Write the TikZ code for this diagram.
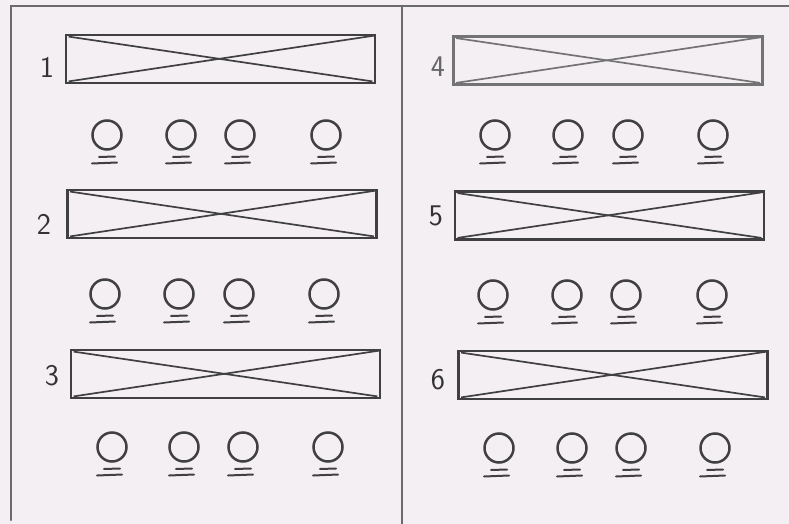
\documentclass[tikz,border=0pt]{standalone}
\begin{document}
\begin{tikzpicture}[x=1pt,y=-1pt,
  ink/.style={draw=black!75},
  frameline/.style={draw=black!58,line width=2.2pt,line cap=round},
  slot/.style={ink,line width=2.8pt,rectangle,minimum width=309pt,minimum height=48pt,inner sep=0pt},
  crossline/.style={ink,line width=1.7pt},
  dot/.style={ink,line width=2.5pt,circle,minimum size=29pt,inner sep=0pt},
  dash line/.style={ink,line width=2pt,line cap=round},
  num/.style={text=black!80,font=\fontsize{30}{30}\sffamily,inner sep=0pt}]
\definecolor{bgc}{HTML}{F4EFF3}
\fill[bgc] (0,0) rectangle (789,524);
\useasboundingbox (0,0) rectangle (789,524);
% frame
\coordinate (ftl) at (11,6);
\coordinate (ftr) at (789,6);
\coordinate (fbl) at (11,520);
\coordinate (dtop) at (402,6);
\coordinate (dbot) at (402,524);
\draw[frameline] (ftr) -- (ftl) -- (fbl);
\draw[frameline] (dtop) -- (dbot);
% slots
\node[slot] (r1) at (220.5,59) {};
\node[slot] (r2) at (222,214) {};
\node[slot] (r3) at (225.5,374) {};
\node[slot,draw=black!55] (r4) at (608,60.5) {};
\node[slot] (r5) at (609.5,215.5) {};
\node[slot] (r6) at (613,375) {};
\foreach \r in {r1,r2,r3,r5,r6}{
  \draw[crossline] ([xshift=4pt,yshift=-3pt]\r.north west) -- ([xshift=-4pt,yshift=3pt]\r.south east);
  \draw[crossline] ([xshift=4pt,yshift=3pt]\r.south west) -- ([xshift=-2pt,yshift=-2pt]\r.north east);
}
\draw[crossline,draw=black!55] ([xshift=4pt,yshift=-3pt]r4.north west) -- ([xshift=-4pt,yshift=3pt]r4.south east);
\draw[crossline,draw=black!55] ([xshift=4pt,yshift=3pt]r4.south west) -- ([xshift=-2pt,yshift=-2pt]r4.north east);
% labels
\node[num] (n1) at (47,67) {1};
\node[num] (n2) at (44,224) {2};
\node[num] (n3) at (52,376) {3};
\node[num,text=black!60] (n4) at (438,67) {4};
\node[num] (n5) at (436,216) {5};
\node[num] (n6) at (438,380) {6};
% circles
\foreach \row/\y/\xa/\xb/\xc/\xd in {
  1/135/107/181/240/326,
  2/294/105/179/239/324,
  3/447/112/184/243/328,
  4/135/495/568/628/713,
  5/295/493/567/626/712,
  6/448/499/572/631/715}{
  \foreach \k/\x in {a/\xa,b/\xb,c/\xc,d/\xd}{
    \node[dot] (c\row\k) at (\x,\y) {};
    \draw[dash line] ([shift={(-8,22)}]c\row\k.center) -- ([shift={(8,21.5)}]c\row\k.center);
    \draw[dash line] ([shift={(-15,28.5)}]c\row\k.center) -- ([shift={(10,27.5)}]c\row\k.center);
  }
}
\end{tikzpicture}
\end{document}
